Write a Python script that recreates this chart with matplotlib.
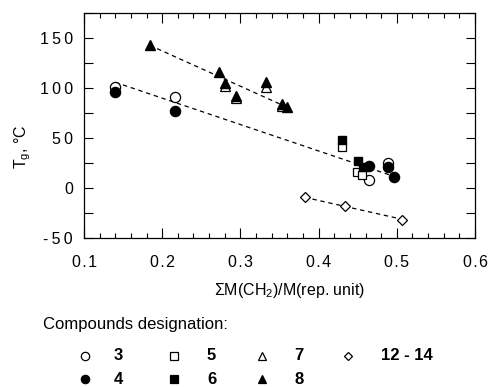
import matplotlib
matplotlib.use("Agg")
import matplotlib.pyplot as plt
from matplotlib.ticker import MultipleLocator, FuncFormatter

plt.rcParams['font.family'] = ['Liberation Sans', 'DejaVu Sans']
plt.rcParams['axes.unicode_minus'] = False
plt.rcParams['mathtext.fontset'] = 'custom'
plt.rcParams['mathtext.rm'] = 'Liberation Sans'
plt.rcParams['mathtext.it'] = 'Liberation Sans:italic'

# Data: x = sum M(CH2)/M(rep. unit), y = Tg in deg C
x3 = [0.140, 0.217, 0.465, 0.489]
t3 = [101, 91, 8, 25]
x4 = [0.140, 0.217, 0.465, 0.489, 0.497]
t4 = [96, 77, 22, 21, 11]
x5 = [0.430, 0.449, 0.455]
t5 = [41, 16, 13]
x6 = [0.430, 0.451, 0.457]
t6 = [48, 27, 21]
x7 = [0.280, 0.295, 0.333, 0.353]
t7 = [102, 90, 101, 82]
x8 = [0.184, 0.272, 0.280, 0.295, 0.333, 0.353, 0.359]
t8 = [143, 116, 105, 92, 106, 84, 81]
x12 = [0.382, 0.434, 0.507]
t12 = [-9, -18, -32]

# dashed trend lines (end points)
fit_upper_x, fit_upper_t = [0.184, 0.357], [143, 82]
fit_mid_x, fit_mid_t = [0.140, 0.496], [106, 12]
fit_low_x, fit_low_t = [0.382, 0.507], [-9, -31]

fig = plt.figure(figsize=(4.94, 3.87), dpi=100)
W, H = 494, 387
ax = fig.add_axes([84 / W, 1 - 238.3 / H, (475 - 84) / W, (238.3 - 13.3) / H])

dash = (0, (3.5, 3))
for fx, ft in [(fit_upper_x, fit_upper_t), (fit_mid_x, fit_mid_t), (fit_low_x, fit_low_t)]:
    ax.plot(fx, ft, color='black', lw=0.9, ls=dash, zorder=1)

# open markers first, filled ones drawn on top
ax.plot(x3, t3, 'o', ms=7.3, mfc='white', mec='black', mew=0.9, zorder=2)
ax.plot(x5, t5, 's', ms=6.3, mfc='white', mec='black', mew=0.9, zorder=2)
ax.plot(x7, t7, '^', ms=7.5, mfc='white', mec='black', mew=0.9, zorder=2)
ax.plot(x12, t12, 'D', ms=5.6, mfc='white', mec='black', mew=0.9, zorder=2)
ax.plot(x4, t4, 'o', ms=7.3, color='black', zorder=3)
ax.plot(x6, t6, 's', ms=6.3, color='black', zorder=3)
ax.plot(x8, t8, '^', ms=7.5, color='black', zorder=3)

ax.set_xlim(0.1, 0.6)
ax.set_ylim(-50, 175)
ax.xaxis.set_major_locator(MultipleLocator(0.1))
ax.xaxis.set_minor_locator(MultipleLocator(0.02))
ax.yaxis.set_major_locator(MultipleLocator(50))
ax.yaxis.set_minor_locator(MultipleLocator(25))


def spaced(v, fmt, sep):
    return sep.join(fmt.format(v))


ax.xaxis.set_major_formatter(FuncFormatter(lambda v, p: spaced(v, '{:.1f}', '\u200a')))
ax.yaxis.set_major_formatter(FuncFormatter(lambda v, p: spaced(v, '{:.0f}', '\u2009')))

ax.tick_params(which='both', direction='in', top=True, right=True, width=0.8, labelsize=11.5)
ax.tick_params(axis='x', which='major', length=7, pad=12)
ax.tick_params(axis='x', which='minor', length=3.5)
ax.tick_params(axis='y', which='both', length=6.5, pad=8)
for sp in ax.spines.values():
    sp.set_linewidth(0.9)

fig.text(290 / W, 1 - 290 / H, '\u03a3M(CH$_2$)/M(rep. unit)', fontsize=11.5,
         ha='center', va='center')
fig.text(23 / W, 1 - 147 / H, 'T$_\\mathrm{g}$, \u00b0C', fontsize=11.5, rotation=90,
         ha='center', va='center')

# legend block under the plot, drawn in pixel coordinates
lax = fig.add_axes([0, 0, 1, 1], zorder=-1)
lax.set_xlim(0, W)
lax.set_ylim(H, 0)
lax.axis('off')

lax.text(43, 325, 'Compounds designation:', fontsize=12, va='center', ha='left')

leg_labels = ['3', '4', '5', '6', '7', '8', '12 - 14']
leg_markers = ['o', 'o', 's', 's', '^', '^', 'D']
leg_filled = [False, True, False, True, False, True, False]
leg_col = [0, 0, 1, 1, 2, 2, 3]
leg_row = [0, 1, 0, 1, 0, 1, 0]
mark_x = [85, 174, 262, 348]
text_x = [114, 207, 294, 381]
row_y = [356, 379]
sizes = {'o': 6, 's': 5.2, '^': 6, 'D': 4.5}

for lab, m, f, c, r in zip(leg_labels, leg_markers, leg_filled, leg_col, leg_row):
    lax.plot([mark_x[c]], [row_y[r]], m, ms=sizes[m],
             mfc='black' if f else 'white', mec='black', mew=0.9)
    lax.text(text_x[c], row_y[r], lab, fontsize=12, fontweight='bold', va='center', ha='left')

fig.savefig('out.png', dpi=100)
